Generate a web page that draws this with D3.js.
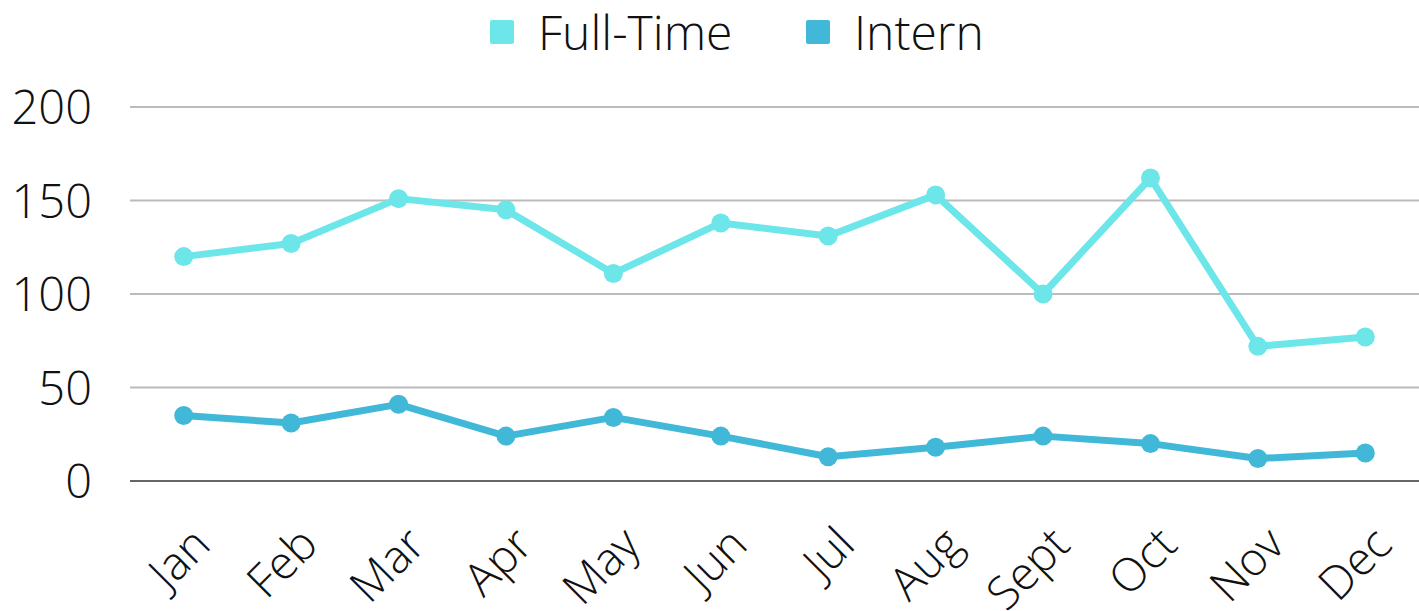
<!DOCTYPE html>
<html>
<head>
<meta charset="utf-8">
<script src="https://cdn.jsdelivr.net/npm/d3@7"></script>
<style>
  body { margin: 0; background: #fff; }
  text { font-family: "Open Sans", sans-serif; font-weight: 300; fill: #111; }
</style>
</head>
<body>
<svg width="1419" height="611"></svg>
<script>
const months = ['Jan','Feb','Mar','Apr','May','Jun','Jul','Aug','Sept','Oct','Nov','Dec'];
const fullTime = [120, 127, 151, 145, 111, 138, 131, 153, 100, 162, 72, 77];
const intern = [35, 31, 41, 24, 34, 24, 13, 18, 24, 20, 12, 15];
const yTicks = [0, 50, 100, 150, 200];
const seriesNames = ['Full-Time', 'Intern'];
const seriesColors = ['#6ce6e8', '#42b8d8'];

const svg = d3.select('svg');
const width = +svg.attr('width');
const height = +svg.attr('height');

const margin = { left: 130, right: 0 };

const x = d3.scaleBand()
    .domain(months)
    .range([margin.left, width - margin.right]);

const y = d3.scaleLinear()
    .domain([0, 200])
    .range([481, 107]);

// gridlines
svg.append('g')
    .selectAll('line')
    .data(yTicks)
    .enter().append('line')
        .attr('x1', margin.left)
        .attr('x2', width)
        .attr('y1', d => y(d))
        .attr('y2', d => y(d))
        .attr('stroke', d => d === 0 ? '#666' : '#bbb')
        .attr('stroke-width', 2);

// y labels
const yAxis = d3.axisLeft(y).tickValues(yTicks).tickSize(0).tickPadding(0);
svg.append('g')
    .attr('transform', `translate(92,0)`)
    .call(yAxis)
    .call(g => g.select('.domain').remove())
    .selectAll('text')
        .attr('font-size', 47)
        .attr('font-family', '"Open Sans", sans-serif')
        .attr('font-weight', 300)
        .attr('fill', '#111')
        .attr('dy', '0.36em');

// x labels
const xAxis = d3.axisBottom(x).tickSize(0).tickPadding(0);
svg.append('g')
    .attr('transform', `translate(0,${y(0)})`)
    .call(xAxis)
    .call(g => g.select('.domain').remove())
    .selectAll('text')
        .attr('font-size', 46)
        .attr('font-family', '"Open Sans", sans-serif')
        .attr('font-weight', 300)
        .attr('fill', '#111')
        .attr('text-anchor', 'end')
        .attr('dy', null)
        .attr('transform', 'translate(29,66) rotate(-45)');

const series = [fullTime, intern];
const line = d3.line()
    .x((d, i) => x(months[i]) + x.bandwidth() / 2)
    .y(d => y(d));

series.forEach((vals, si) => {
    const g = svg.append('g');
    g.append('path')
        .datum(vals)
        .attr('d', line)
        .attr('fill', 'none')
        .attr('stroke', seriesColors[si])
        .attr('stroke-width', 7)
        .attr('stroke-linejoin', 'round');
    g.selectAll('circle')
        .data(vals)
        .enter().append('circle')
            .attr('cx', (d, i) => x(months[i]) + x.bandwidth() / 2)
            .attr('cy', d => y(d))
            .attr('r', 9.5)
            .attr('fill', seriesColors[si]);
});

// legend
const legendX = [490, 806];
const legend = svg.append('g');
seriesNames.forEach((name, i) => {
    legend.append('rect')
        .attr('x', legendX[i])
        .attr('y', 20)
        .attr('width', 24)
        .attr('height', 24)
        .attr('rx', 2)
        .attr('fill', seriesColors[i]);
    legend.append('text')
        .attr('x', legendX[i] + 48)
        .attr('y', 50)
        .attr('font-size', 48)
        .text(name);
});
</script>
</body>
</html>
